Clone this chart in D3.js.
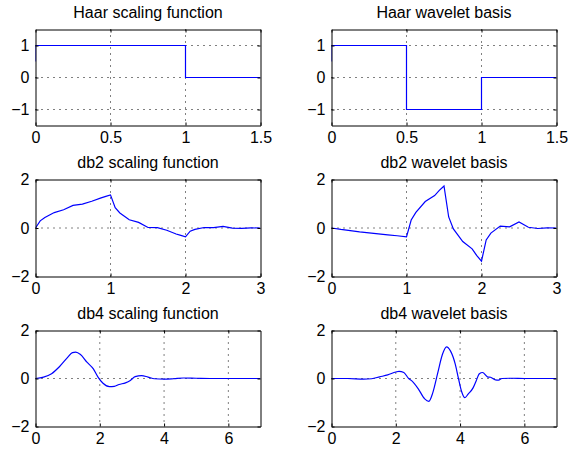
<!DOCTYPE html>
<html lang="en">
<head>
    <meta charset="utf-8">
    <script src="https://d3js.org/d3.v7.min.js"></script>
</head>
<style>
    body { margin: 0; background: #fff; }
    text { font-family: "Liberation Sans", Arial, Helvetica, sans-serif; }
    .grid line { stroke: #000; stroke-dasharray: 1,5; stroke-width: 1; }
</style>
<body>
<script>
    const W = 582
    const H = 452

    // Haar
    const haarX = [0, 0, 1, 1, 1.5]
    const haarPhi = [0.5, 1, 1, 0, 0]
    const haarPsiX = [0, 0, 0.5, 0.5, 1, 1, 1.5]
    const haarPsi = [0.5, 1, 1, -1, -1, 0, 0]

    // db2
    const db2PhiX = [0, 0.0625, 0.125, 0.25, 0.375, 0.5, 0.625, 0.75, 0.875, 0.9375, 1, 1.0625, 1.125, 1.25, 1.375, 1.5,
                     1.625, 1.75, 1.875, 1.9375, 2, 2.0625, 2.125, 2.25, 2.375, 2.5, 2.625, 2.75, 2.875, 3]
    const db2Phi = [0, 0.297, 0.435, 0.637, 0.754, 0.933, 0.987, 1.104, 1.244, 1.304, 1.366, 0.834, 0.621, 0.342, 0.233, 0.02,
                    0.017, -0.092, -0.246, -0.303, -0.366, -0.131, -0.056, 0.021, 0.013, 0.067, -0.004, -0.012, 0.002, 0]
    const db2PsiX = [0, 0.125, 0.25, 0.375, 0.5, 0.625, 0.75, 0.875, 1, 1.0625, 1.125, 1.25, 1.375, 1.4375, 1.5,
                     1.5625, 1.625, 1.75, 1.875, 1.9375, 2, 2.0625, 2.125, 2.25, 2.375, 2.5, 2.625, 2.75, 2.875, 3]
    const db2Psi = [0, -0.06, -0.11, -0.16, -0.2, -0.24, -0.28, -0.32, -0.366, 0.328, 0.641, 1.092, 1.337, 1.549, 1.732,
                    0.455, -0.037, -0.558, -0.858, -1.141, -1.366, -0.49, -0.209, 0.079, 0.048, 0.25, 0.03, -0.02, 0.008, 0]

    // db4
    const db4PhiX = [0, 0.25, 0.5, 0.75, 1.0, 1.15, 1.25, 1.4, 1.6, 1.8, 1.95, 2.1, 2.3, 2.45, 2.6, 2.8, 2.95,
                     3.1, 3.3, 3.5, 3.7, 4.0, 4.3, 4.6, 5.0, 5.5, 6, 6.5, 7]
    const db4Phi = [0, 0.06, 0.2, 0.5, 0.88, 1.08, 1.1, 1.0, 0.68, 0.4, 0.05, -0.2, -0.34, -0.33, -0.25, -0.18, -0.08,
                    0.08, 0.12, 0.06, -0.01, -0.03, -0.01, 0.02, 0.01, 0, 0, 0, 0]
    const db4PsiX = [0, 0.5, 1.0, 1.25, 1.5, 1.75, 2.0, 2.1, 2.25, 2.4, 2.5, 2.7, 2.9, 3.03, 3.15, 3.3, 3.45, 3.58,
                     3.7, 3.85, 3.95, 4.05, 4.15, 4.25, 4.4, 4.5, 4.6, 4.7, 4.85, 4.95, 5.1, 5.2, 5.3, 5.6, 6, 7]
    const db4Psi = [0, 0, -0.03, -0.01, 0.07, 0.15, 0.27, 0.3, 0.25, 0.0, -0.1, -0.43, -0.85, -0.95, -0.6, 0.2, 1.0, 1.32,
                    1.15, 0.6, 0.0, -0.55, -0.8, -0.65, -0.4, -0.1, 0.2, 0.25, 0.07, 0.05, -0.06, -0.07, 0, 0.01, 0, 0]

    const titles = ["Haar scaling function", "Haar wavelet basis",
                    "db2 scaling function", "db2 wavelet basis",
                    "db4 scaling function", "db4 wavelet basis"]

    const haarXTicks = [0, 0.5, 1, 1.5]
    const haarYTicks = [-1, 0, 1]
    const db2XTicks = [0, 1, 2, 3]
    const db4XTicks = [0, 2, 4, 6]
    const dbYTicks = [-2, 0, 2]

    // panel layout
    const cols = [[35.5, 260.5], [331.5, 556.5]]
    const rows = [[29.5, 125.5], [179.5, 276.5], [330.5, 426.5]]
    const fmt = d3.format("~g")

    const panels = [
        {x: haarX, y: haarPhi, xd: [0, 1.5], yd: [-1.5, 1.5], xt: haarXTicks, yt: haarYTicks, curve: d3.curveLinear},
        {x: haarPsiX, y: haarPsi, xd: [0, 1.5], yd: [-1.5, 1.5], xt: haarXTicks, yt: haarYTicks, curve: d3.curveLinear},
        {x: db2PhiX, y: db2Phi, xd: [0, 3], yd: [-2, 2], xt: db2XTicks, yt: dbYTicks, curve: d3.curveLinear},
        {x: db2PsiX, y: db2Psi, xd: [0, 3], yd: [-2, 2], xt: db2XTicks, yt: dbYTicks, curve: d3.curveLinear},
        {x: db4PhiX, y: db4Phi, xd: [0, 7], yd: [-2, 2], xt: db4XTicks, yt: dbYTicks, curve: d3.curveMonotoneX},
        {x: db4PsiX, y: db4Psi, xd: [0, 7], yd: [-2, 2], xt: db4XTicks, yt: dbYTicks, curve: d3.curveMonotoneX}
    ]

    var svg = d3.select("body")
        .append("svg")
        .attr("width", W)
        .attr("height", H)

    panels.forEach((p, i) => {
        const c = cols[i % 2]
        const r = rows[Math.floor(i / 2)]
        const xScale = d3.scaleLinear().domain(p.xd).range(c)
        const yScale = d3.scaleLinear().domain(p.yd).range([r[1], r[0]])
        const g = svg.append("g")

        // dotted grid at the ticks
        const grid = g.append("g").attr("class", "grid")
        grid.selectAll(".gx")
            .data(p.xt.filter(v => v > p.xd[0] && v < p.xd[1]))
            .enter().append("line")
            .attr("x1", d => xScale(d)).attr("x2", d => xScale(d))
            .attr("y1", r[0]).attr("y2", r[1])
        grid.selectAll(".gy")
            .data(p.yt.filter(v => v > p.yd[0] && v < p.yd[1]))
            .enter().append("line")
            .attr("y1", d => yScale(d)).attr("y2", d => yScale(d))
            .attr("x1", c[0]).attr("x2", c[1])

        // the curve
        const pts = p.x.map((v, k) => [v, p.y[k]])
        const clipId = "clip" + i
        g.append("clipPath").attr("id", clipId)
            .append("rect")
            .attr("x", c[0]).attr("y", r[0])
            .attr("width", c[1] - c[0]).attr("height", r[1] - r[0])
        g.append("path")
            .datum(pts)
            .attr("clip-path", "url(#" + clipId + ")")
            .attr("fill", "none")
            .attr("stroke", "#0000ff")
            .attr("stroke-width", 1.2)
            .attr("d", d3.line().x(d => xScale(d[0])).y(d => yScale(d[1])).curve(p.curve))

        // axes, ticks pointing inward on all four sides
        const axes = [
            [d3.axisBottom(xScale).tickValues(p.xt), "translate(0," + r[1] + ")", true],
            [d3.axisLeft(yScale).tickValues(p.yt), "translate(" + c[0] + ",0)", true],
            [d3.axisTop(xScale).tickValues(p.xt), "translate(0," + r[0] + ")", false],
            [d3.axisRight(yScale).tickValues(p.yt), "translate(" + c[1] + ",0)", false]
        ]
        axes.forEach(a => {
            const ax = a[0].tickSize(-3).tickPadding(a[2] ? 6 : 0).tickSizeOuter(0)
            ax.tickFormat(a[2] ? fmt : "")
            const ag = g.append("g").attr("transform", a[1]).call(ax)
            ag.selectAll("path, line").attr("stroke", "#000")
            ag.selectAll("text")
                .attr("fill", "#000")
                .style("font-size", "16px")
        })

        g.append("text")
            .attr("x", (c[0] + c[1]) / 2)
            .attr("y", r[0] - 12)
            .attr("text-anchor", "middle")
            .style("font-size", "16px")
            .text(titles[i])
    })
</script>
</body>
</html>
